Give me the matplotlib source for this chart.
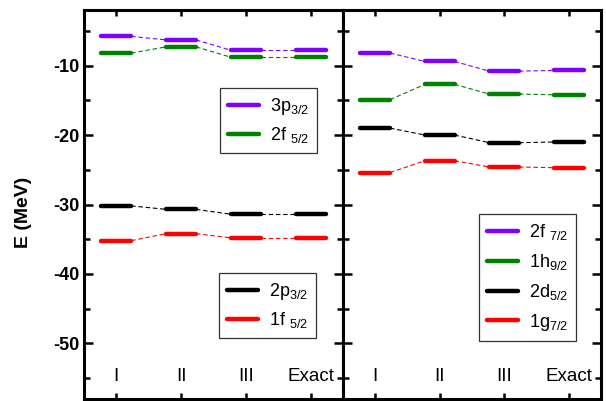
import matplotlib
matplotlib.use("Agg")
import matplotlib.pyplot as plt
import numpy as np

plt.rcParams["font.family"] = ["Liberation Sans", "DejaVu Sans"]
plt.rcParams["mathtext.fontset"] = "custom"
plt.rcParams["mathtext.rm"] = "Liberation Sans"
plt.rcParams["mathtext.it"] = "Liberation Sans"
plt.rcParams["mathtext.default"] = "regular"
plt.rcParams["axes.unicode_minus"] = False

methods = ["I", "II", "III", "Exact"]

# left panel levels (MeV)
left_labels = ["3p$_{3/2}$", "2f $_{5/2}$", "2p$_{3/2}$", "1f $_{5/2}$"]
e_3p32 = [-5.8, -6.3, -7.8, -7.8]
e_2f52 = [-8.2, -7.3, -8.8, -8.8]
e_2p32 = [-30.2, -30.7, -31.4, -31.4]
e_1f52 = [-35.2, -34.2, -34.8, -34.8]

# right panel levels (MeV)
right_labels = ["2f $_{7/2}$", "1h$_{9/2}$", "2d$_{5/2}$", "1g$_{7/2}$"]
e_2f72 = [-8.2, -9.4, -10.8, -10.7]
e_1h92 = [-14.9, -12.7, -14.1, -14.2]
e_2d52 = [-19.0, -20.0, -21.1, -21.0]
e_1g72 = [-25.4, -23.7, -24.6, -24.7]

colors = ["#8000ff", "#008000", "#000000", "#ff0000"]
HW = 0.23  # half width of a level bar

fig = plt.figure(figsize=(6.06, 4.01), dpi=100)
axL = fig.add_axes([0.1386, 0.005, 0.4274, 0.970])
axR = fig.add_axes([0.5660, 0.005, 0.4257, 0.970])


def draw_levels(ax, series, labels):
    x = np.arange(1, len(methods) + 1)
    handles = []
    for vals, c, lab in zip(series, colors, labels):
        for i, v in enumerate(vals):
            h, = ax.plot([x[i] - HW, x[i] + HW], [v, v], color=c, lw=3.2,
                         solid_capstyle="round", label=lab if i == 0 else None)
            if i == 0:
                handles.append(h)
            if i < len(vals) - 1:
                ax.plot([x[i] + HW, x[i + 1] - HW], [v, vals[i + 1]], color=c,
                        lw=0.8, ls=(0, (4, 2.5)))
    for xi, m in zip(x, methods):
        ax.text(xi, 0.057, m, transform=ax.get_xaxis_transform(),
                ha="center", va="center", fontsize=13.5)
    ax.set_xlim(0.5, 4.5)
    ax.set_ylim(-58, -2)
    ax.set_xticks(x)
    ax.set_xticklabels([])
    ax.set_yticks(np.arange(-50, -9, 10))
    ax.set_yticks(np.arange(-55, -4, 10), minor=True)
    ax.tick_params(axis="both", which="major", direction="in", top=True, right=True,
                   length=6.5, width=1.8, labelsize=13)
    ax.tick_params(axis="y", which="minor", direction="in", left=True, right=True,
                   length=4.5, width=1.8)
    ax.tick_params(axis="x", which="major", length=4.5)
    for s in ax.spines.values():
        s.set_linewidth(2.2)
    return handles


hL = draw_levels(axL, [e_3p32, e_2f52, e_2p32, e_1f52], left_labels)
hR = draw_levels(axR, [e_2f72, e_1h92, e_2d52, e_1g72], right_labels)

for t in axL.get_yticklabels():
    t.set_fontweight("bold")
axL.set_ylabel("E (MeV)", fontsize=14, fontweight="bold")
axL.yaxis.set_label_coords(-0.20, 0.48)
axR.set_yticklabels([])

leg_kw = dict(frameon=True, fancybox=False, edgecolor="black", fontsize=13,
              handlelength=1.7, handletextpad=0.6, borderpad=0.45, labelspacing=0.45,
              borderaxespad=0)
lg1 = axL.legend(handles=hL[:2], loc="upper right", bbox_to_anchor=(0.900, 0.800), **leg_kw)
lg1.get_frame().set_linewidth(0.9)
axL.add_artist(lg1)
lg2 = axL.legend(handles=hL[2:], loc="upper right", bbox_to_anchor=(0.896, 0.324), **leg_kw)
lg2.get_frame().set_linewidth(0.9)
leg_kw["labelspacing"] = 0.55
lg3 = axR.legend(handles=hR, loc="upper right", bbox_to_anchor=(0.903, 0.476), **leg_kw)
lg3.get_frame().set_linewidth(0.9)

fig.savefig("out.png", dpi=100)
